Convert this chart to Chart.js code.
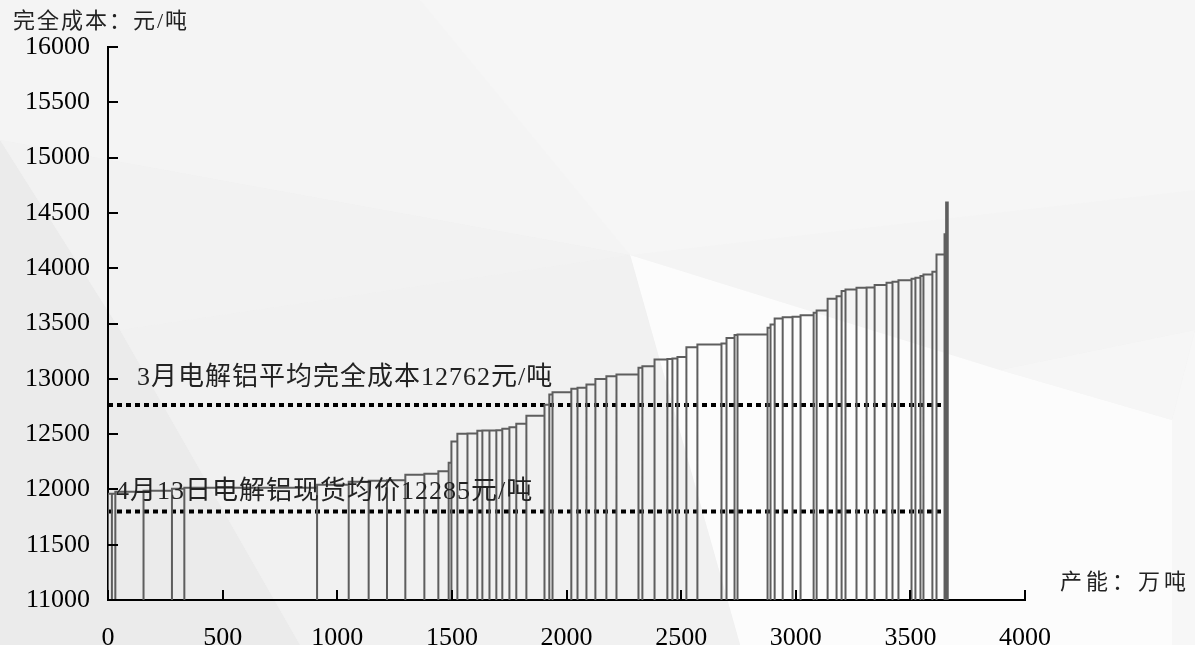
<!DOCTYPE html>
<html><head><meta charset="utf-8">
<script src="https://cdn.jsdelivr.net/npm/chart.js@4.4.1/dist/chart.umd.min.js"></script>
<style>html,body{margin:0;padding:0;background:#efefef;overflow:hidden}canvas{display:block}</style>
</head><body>
<canvas id="c" width="1195" height="645"></canvas>
<script>
// ---- data ----
const capacities = [17,15,123,124,54,579,138,87,80,80,83,61,45,12,26,44,43,22,31,30,26,31,30,44,79,21,14,82,27,39,39,48,44,96,17,53,56,22,22,39,48,105,22,35,13,131,13,18,35,43,35,57,13,48,39,22,17,48,44,35,52,26,26,57,17,22,13,39,18,35,7,7];
const costs = [11960,11960,11978,11987,12005,12014,12042,12069,12078,12082,12132,12141,12164,12241,12434,12504,12506,12531,12532,12533,12535,12549,12561,12594,12667,12766,12857,12878,12911,12918,12948,12999,13023,13038,13099,13113,13174,13178,13183,13198,13285,13310,13319,13370,13395,13400,13461,13491,13545,13557,13561,13575,13597,13618,13724,13747,13793,13808,13823,13825,13847,13869,13878,13892,13905,13914,13929,13944,13968,14125,14306,14593];
const refValues = [12762, 11800];
const refLabels = ['3月电解铝平均完全成本12762元/吨', '4月13日电解铝现货均价12285元/吨'];
const xTicks = [0,500,1000,1500,2000,2500,3000,3500,4000];
const yTicks = [11000,11500,12000,12500,13000,13500,14000,14500,15000,15500,16000];
const yTitle = '完全成本：元/吨';
const xTitle = '产能：万吨';

// ---- build the outline of the variable-width bars ----
const yBase = yTicks[0];
const outline = [];
let cum = 0;
capacities.forEach((w, i) => {
  outline.push({x: cum, y: yBase}, {x: cum, y: costs[i]});
  cum += w;
  outline.push({x: cum, y: costs[i]}, {x: cum, y: yBase});
});
const total = cum;

const FONT = "'Liberation Serif', 'Noto Sans CJK SC', serif";

const overlay = {
  id: 'overlay',
  beforeDraw(chart) {
    const ctx = chart.ctx;
    const polys = [
      ['#efefef', [[0,0],[1195,0],[1195,645],[0,645]]],
      ['#f4f4f4', [[0,0],[1195,0],[1195,330],[1000,370],[630,255],[0,140]]],
      ['#f6f6f6', [[420,0],[1195,0],[1195,190],[630,255]]],
      ['#f6f6f6', [[1000,370],[1195,330],[1172,420]]],
      ['#fcfcfc', [[630,255],[1000,370],[1172,420],[1172,645],[740,645]]],
      ['#f7f7f7', [[1172,420],[1195,330],[1195,645],[1172,645]]],
      ['#ebebeb', [[0,140],[0,645],[300,645],[120,330]]],
      ['#f1f1f1', [[120,330],[630,255],[740,645],[300,645]]],
      ['#f2f2f2', [[0,140],[630,255],[120,330]]]
    ];
    ctx.save();
    polys.forEach(([c, pts]) => {
      ctx.fillStyle = c;
      ctx.beginPath();
      pts.forEach((p, i) => i ? ctx.lineTo(p[0], p[1]) : ctx.moveTo(p[0], p[1]));
      ctx.closePath();
      ctx.fill();
    });
    ctx.restore();
  },
  afterDraw(chart) {
    const ctx = chart.ctx, xs = chart.scales.x, ys = chart.scales.y;
    ctx.save();
    // inward tick marks
    ctx.strokeStyle = '#000';
    ctx.lineWidth = 2;
    yTicks.forEach(v => {
      const y = Math.round(ys.getPixelForValue(v));
      ctx.beginPath(); ctx.moveTo(xs.left, y); ctx.lineTo(xs.left + 10, y); ctx.stroke();
    });
    xTicks.forEach(v => {
      const x = Math.round(xs.getPixelForValue(v));
      ctx.beginPath(); ctx.moveTo(x, ys.bottom); ctx.lineTo(x, ys.bottom - 10); ctx.stroke();
    });
    // texts
    ctx.fillStyle = '#222';
    ctx.textBaseline = 'middle';
    ctx.textAlign = 'left';
    ctx.font = '22px ' + FONT;
    ctx.letterSpacing = '2px';
    ctx.fillText(yTitle, 13, 22);
    ctx.letterSpacing = '4px';
    ctx.fillText(xTitle, 1060, 583);
    ctx.font = '26px ' + FONT;
    ctx.letterSpacing = '1px';
    const y0 = ys.getPixelForValue(refValues[0]);
    const y1 = ys.getPixelForValue(refValues[1]);
    ctx.fillText(refLabels[0], xs.left + 29, y0 - 27);
    ctx.fillText(refLabels[1], xs.left + 8, y1 - 19);
    ctx.restore();
  }
};

new Chart(document.getElementById('c'), {
  type: 'scatter',
  data: {
    datasets: [
      {
        data: outline, showLine: true, pointRadius: 0, borderColor: '#5e5e5e',
        borderWidth: 2, fill: false, tension: 0, borderJoinStyle: 'miter'
      },
      {
        data: [{x: 0, y: refValues[0]}, {x: total, y: refValues[0]}], showLine: true,
        pointRadius: 0, borderColor: '#000', borderWidth: 4, borderDash: [5, 4], borderCapStyle: 'butt'
      },
      {
        data: [{x: 0, y: refValues[1]}, {x: total, y: refValues[1]}], showLine: true,
        pointRadius: 0, borderColor: '#000', borderWidth: 4, borderDash: [5, 4], borderCapStyle: 'butt'
      }
    ]
  },
  options: {
    responsive: false,
    animation: false,
    devicePixelRatio: 1,
    layout: {padding: {top: 47, right: 170, left: 0, bottom: 0}},
    plugins: {legend: {display: false}, tooltip: {enabled: false}},
    scales: {
      x: {
        type: 'linear', min: xTicks[0], max: xTicks[xTicks.length - 1],
        afterBuildTicks: s => { s.ticks = xTicks.map(v => ({value: v})); },
        afterFit: s => { s.height = 45; },
        grid: {display: false, drawTicks: false},
        border: {display: true, color: '#000', width: 2},
        ticks: {color: '#000', font: {family: FONT, size: 26}, padding: 23, maxRotation: 0, autoSkip: false,
          callback: v => String(v)}
      },
      y: {
        type: 'linear', min: yTicks[0], max: yTicks[yTicks.length - 1],
        afterBuildTicks: s => { s.ticks = yTicks.map(v => ({value: v})); },
        afterFit: s => { s.width = 108; },
        grid: {display: false, drawTicks: false},
        border: {display: true, color: '#000', width: 2},
        ticks: {color: '#000', font: {family: FONT, size: 26}, padding: 18, autoSkip: false,
          callback: v => String(v)}
      }
    }
  },
  plugins: [overlay]
});
</script>
</body></html>
